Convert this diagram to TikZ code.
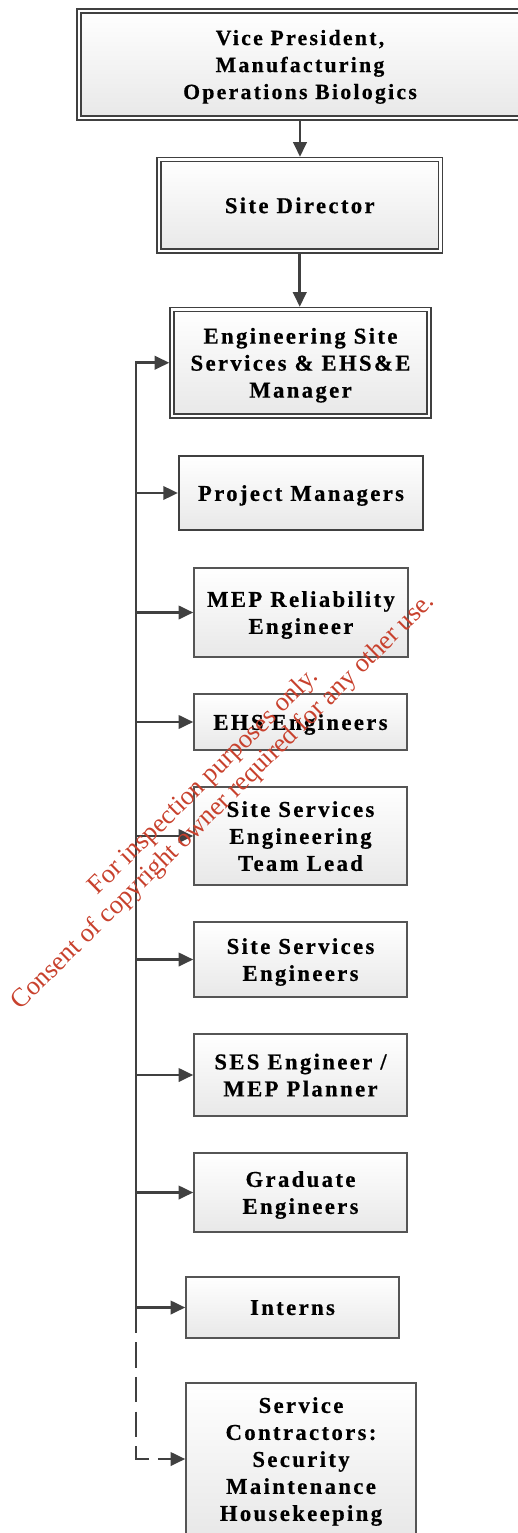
\documentclass[tikz,border=0pt]{standalone}
\usepackage{fontspec}
\newfontfamily\boxfont{Liberation Serif}[LetterSpace=10.5,BoldFeatures={FakeBold=0.5}]
\newfontfamily\wmfont{Liberation Serif}
\usetikzlibrary{arrows.meta}
\definecolor{ln}{HTML}{404040}
\definecolor{bd}{HTML}{555555}
\definecolor{wm}{RGB}{200,65,45}
\tikzset{
 box/.style={draw=bd, line width=1.1pt, top color=white, bottom color=black!9, inner sep=0pt, text depth=0pt, align=center, font=\boxfont\bfseries\fontsize{17}{20.25}\selectfont},
 sz/.style 2 args={minimum width=#1*0.75pt, minimum height=#2*0.75pt},
 dbl/.style={draw=ln, double=white, double distance=2.2pt, line width=1pt},
 conn/.style={draw=ln, line width=2pt},
 arr/.style={conn, -{Triangle[length=11pt,width=10pt]}},
}
\begin{document}
\begin{tikzpicture}[x=0.75pt,y=-0.75pt]
\useasboundingbox (0,0) rectangle (517,1533);
\node[box,dbl,sz={442}{107},font=\boxfont\bfseries\fontsize{16.3}{20.25}\selectfont] (vp) at (300,64.5) {Vice President,\\Manufacturing\\Operations Biologics};
\node[box,dbl,sz={281.5}{91.5}] (sd) at (299.75,205.25) {Site Director};
\node[box,dbl,sz={257}{106.5}] (eng) at (300.5,362.75) {Engineering Site\\Services \& EHS\&E\\Manager};
\node[box,sz={244}{74},line width=1.6pt,draw=ln] (pm) at (301,493) {Project Managers};
\node[box,sz={214}{89}] (mep) at (301,612.5) {MEP Reliability\\Engineer};
\node[box,sz={213}{56}] (ehs) at (300.5,722) {EHS Engineers};
\node[box,sz={213}{98}] (sstl) at (300.5,836) {Site Services\\Engineering\\Team Lead};
\node[box,sz={213}{75}] (sse) at (300.5,959.5) {Site Services\\Engineers};
\node[box,sz={213}{82}] (ses) at (300.5,1075) {SES Engineer /\\MEP Planner};
\node[box,sz={213}{79}] (grad) at (300.5,1192.5) {Graduate\\Engineers};
\node[box,sz={213}{61}] (int) at (292.5,1307.5) {Interns};
\node[box,sz={230}{152}] (sc) at (301,1459) {Service\\Contractors:\\Security\\Maintenance\\Housekeeping};
\coordinate (tr) at (136,0);
\draw[arr,shorten <=2pt,shorten >=1.5pt] (vp.south) -- (vp.south |- sd.north);
\draw[arr,shorten <=2pt,shorten >=1.5pt] (sd.south) -- (sd.south |- eng.north);
\draw[arr,shorten >=1.5pt] (tr |- int.west) -- (tr |- eng.west) -- (eng.west);
\foreach \n in {pm,mep,ehs,sstl,sse,ses,grad,int}
  \draw[arr] (tr |- \n.west) -- (\n.west);
\draw[arr,dash pattern=on 19pt off 7pt] (tr |- int.west) -- (tr |- sc.west) -- (sc.west);
\node[font=\wmfont\fontsize{19.8}{21}\selectfont, text=wm, rotate=44.5, align=center, inner sep=0pt] (wmk) at (214,792) {For inspection purposes only.\\Consent of copyright owner required for any other use.};
\end{tikzpicture}
\end{document}
